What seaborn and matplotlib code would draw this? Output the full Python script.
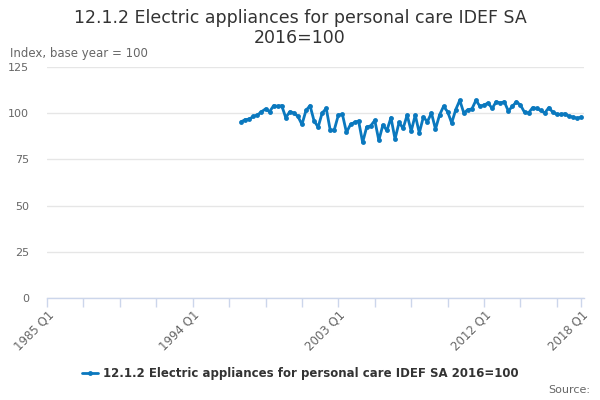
import matplotlib
matplotlib.use("Agg")
import matplotlib.pyplot as plt
import seaborn as sns
import pandas as pd

title = "12.1.2 Electric appliances for personal care IDEF SA\n2016=100"
series_name = "12.1.2 Electric appliances for personal care IDEF SA 2016=100"
y_label = "Index, base year = 100"

axis_start_year = 1985
axis_end_year = 2018
data_start_year = 1997

values = [
    95.4, 96.5, 96.8, 98.3, 99.0, 100.8, 102.3, 100.8, 104.1, 103.7,
    104.1, 97.6, 100.8, 100.1, 98.3, 93.9, 101.5, 104.1, 95.8, 92.5,
    100.1, 102.6, 90.7, 91.1, 99.0, 99.4, 89.6, 93.9, 95.0, 95.8,
    84.2, 92.5, 93.2, 96.1, 85.3, 93.6, 90.7, 97.6, 86.0, 95.0,
    91.8, 99.0,
    90.3, 99.0, 89.3, 97.9, 95.4, 100.1, 91.4, 99.0, 103.7, 100.8,
    94.7, 101.9, 107.0, 100.1, 101.9, 102.3, 107.0, 103.7, 104.4, 105.5,
    102.6, 106.2, 105.5, 106.2, 101.2, 103.7, 106.2, 104.4, 100.5, 100.1,
    103.0, 102.6, 101.5, 100.1, 103.0, 100.5, 99.4, 99.4, 99.7, 98.3,
    97.9, 97.2, 97.9,
]

y_ticks = [0, 25, 50, 75, 100, 125]
x_tick_labels = ["1985 Q1", "1994 Q1", "2003 Q1", "2012 Q1", "2018 Q1"]

# positions as quarter index from axis start
offset = (data_start_year - axis_start_year) * 4
positions = [offset + i for i in range(len(values))]
periods = [f"{data_start_year + (i // 4)} Q{i % 4 + 1}" for i in range(len(values))]
df = pd.DataFrame({"pos": positions, "value": values, "period": periods})

n_total = (axis_end_year - axis_start_year) * 4
label_map = {int(l[:4]) * 4 - axis_start_year * 4: l for l in x_tick_labels}
tick_pos = list(range(0, n_total, 9)) + [n_total]
tick_text = [label_map.get(p, "") for p in tick_pos]

sns.set_theme(style="white")
plt.rcParams['font.family'] = ['DejaVu Sans']

fig = plt.figure(figsize=(6, 4), dpi=100)
ax = fig.add_axes([47 / 600, 1 - 298 / 400, (584 - 47) / 600, (298 - 67) / 400])

color = "#0a78be"
sns.lineplot(data=df, x="pos", y="value", ax=ax, color=color, linewidth=2,
             marker="o", markersize=3.5, markeredgewidth=0, label=series_name,
             legend=False)

ax.set_xlim(0, n_total + 0.7)
ax.set_ylim(0, 125)
ax.set_yticks(y_ticks)
ax.set_yticklabels([str(t) for t in y_ticks], color="#666666", fontsize=8)
ax.yaxis.grid(True, color="#e6e6e6", linewidth=1)
ax.xaxis.grid(False)

ax.set_xticks(tick_pos)
ax.set_xticklabels(tick_text, color="#666666", fontsize=8.5)
ax.tick_params(axis="x", which="major", bottom=True, length=6.5, color="#ccd6eb",
               width=1, pad=1, labelrotation=45)
for lbl in ax.get_xticklabels():
    lbl.set_rotation(45)
    lbl.set_rotation_mode("anchor")
    lbl.set_horizontalalignment("right")
    lbl.set_verticalalignment("top")
ax.tick_params(axis="y", left=False, length=0, pad=13)

for s in ["top", "right", "left"]:
    ax.spines[s].set_visible(False)
ax.spines["bottom"].set_color("#ccd6eb")
ax.spines["bottom"].set_linewidth(1)
ax.set_xlabel("")
ax.set_ylabel("")

fig.text(0.5, 1 - 28 / 400, title, ha="center", va="center", fontsize=12.5,
         color="#333333", linespacing=1.15)
fig.text(10 / 600, 1 - 53 / 400, y_label, ha="left", va="center", fontsize=8.5,
         color="#666666")

handles, labels = ax.get_legend_handles_labels()
leg = fig.legend(handles, labels, loc="center", bbox_to_anchor=(0.5, 1 - 374 / 400),
                 frameon=False, handlelength=1.4, handletextpad=0.4,
                 prop={"weight": "bold", "size": 8.5})
for t in leg.get_texts():
    t.set_color("#333333")

fig.text(590 / 600, 1 - 390 / 400, "Source:", ha="right", va="center",
         fontsize=8, color="#666666")

fig.savefig("out.png", dpi=100)
